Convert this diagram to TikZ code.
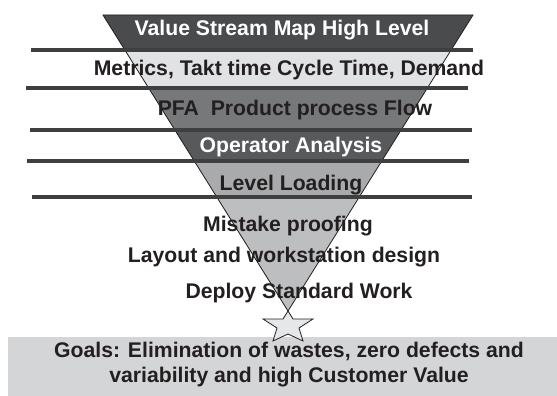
\documentclass[tikz,border=0pt]{standalone}
\usepackage{fontspec}
\setmainfont{Liberation Sans}
\definecolor{bandA}{HTML}{4A4B4D}
\definecolor{bandB}{HTML}{E1E2E4}
\definecolor{bandC}{HTML}{77787A}
\definecolor{bandD}{HTML}{58595B}
\definecolor{bandE}{HTML}{A9AAAC}
\definecolor{bandF}{HTML}{BDBEC0}
\definecolor{rule}{HTML}{3E3F41}
\definecolor{ink}{HTML}{231F20}
\definecolor{goalfill}{HTML}{D4D5D7}
\definecolor{starfill}{HTML}{E6E7E9}
\tikzset{
  label/.style={font=\fontsize{21.2}{25}\selectfont\bfseries, text=ink, inner sep=0pt, anchor=center},
  whitelabel/.style={label, text=white},
  rulerline/.style={draw=rule, line width=3.3pt},
  funnel/.style={draw=ink, line width=0.8pt, line join=miter},
}
\begin{document}
\begin{tikzpicture}[x=1pt,y=-1pt]
\useasboundingbox (0,0) rectangle (557,396);
\fill[white] (0,0) rectangle (557,396);
% funnel corners
\coordinate (ftl) at (103,15);
\coordinate (ftr) at (473,15);
\coordinate (fap) at (288,311);
% coloured bands inside the funnel
\begin{scope}
  \clip (ftl) -- (ftr) -- (fap) -- cycle;
  \fill[bandA] (0,0)   rectangle (557,50);
  \fill[bandB] (0,50)  rectangle (557,88);
  \fill[bandC] (0,88)  rectangle (557,130);
  \fill[bandD] (0,130) rectangle (557,161);
  \fill[bandE] (0,161) rectangle (557,197);
  \fill[bandF] (0,197) rectangle (557,320);
\end{scope}
\draw[funnel] (ftl) -- (ftr) -- (fap) -- cycle;
% horizontal rules
\coordinate (r1a) at (31,50);  \coordinate (r1b) at (473,50);
\coordinate (r2a) at (26,88);  \coordinate (r2b) at (468,88);
\coordinate (r3a) at (30,130); \coordinate (r3b) at (472,130);
\coordinate (r4a) at (27,161); \coordinate (r4b) at (469,161);
\coordinate (r5a) at (32,197); \coordinate (r5b) at (472,197);
\draw[rulerline] (r1a) -- (r1b);
\draw[rulerline] (r2a) -- (r2b);
\draw[rulerline] (r3a) -- (r3b);
\draw[rulerline] (r4a) -- (r4b);
\draw[rulerline] (r5a) -- (r5b);
% goals panel
\fill[goalfill] (8,337) rectangle (557,396);
% star at the funnel tip
\draw[draw=ink, fill=starfill, line width=0.8pt, line join=miter]
  (288,311) -- (293,319) -- (313,319) -- (299,328) -- (303,341)
  -- (288,334) -- (273,341) -- (277,328) -- (263,319) -- (283,319) -- cycle;
% labels
\node[whitelabel] (vsm) at (282,30) {Value Stream Map High Level};
\node[label] (met) at (289,70) {Metrics, Takt time Cycle Time, Demand};
\node[label] (pfa) at (295,110) {PFA\ \ Product process Flow};
\node[whitelabel] (opa) at (291,147) {Operator Analysis};
\node[label] (lvl) at (291,185) {Level Loading};
\node[label] (mis) at (288,226) {Mistake proofing};
\node[label] (lay) at (284,257) {Layout and workstation design};
\node[label] (dep) at (299,293) {Deploy Standard Work};
\node[label, align=center, font=\fontsize{21.2}{25}\selectfont\bfseries] (goal) at (289,365)
  {Goals: Elimination of wastes, zero defects and\\variability and high Customer Value};
\end{tikzpicture}
\end{document}
